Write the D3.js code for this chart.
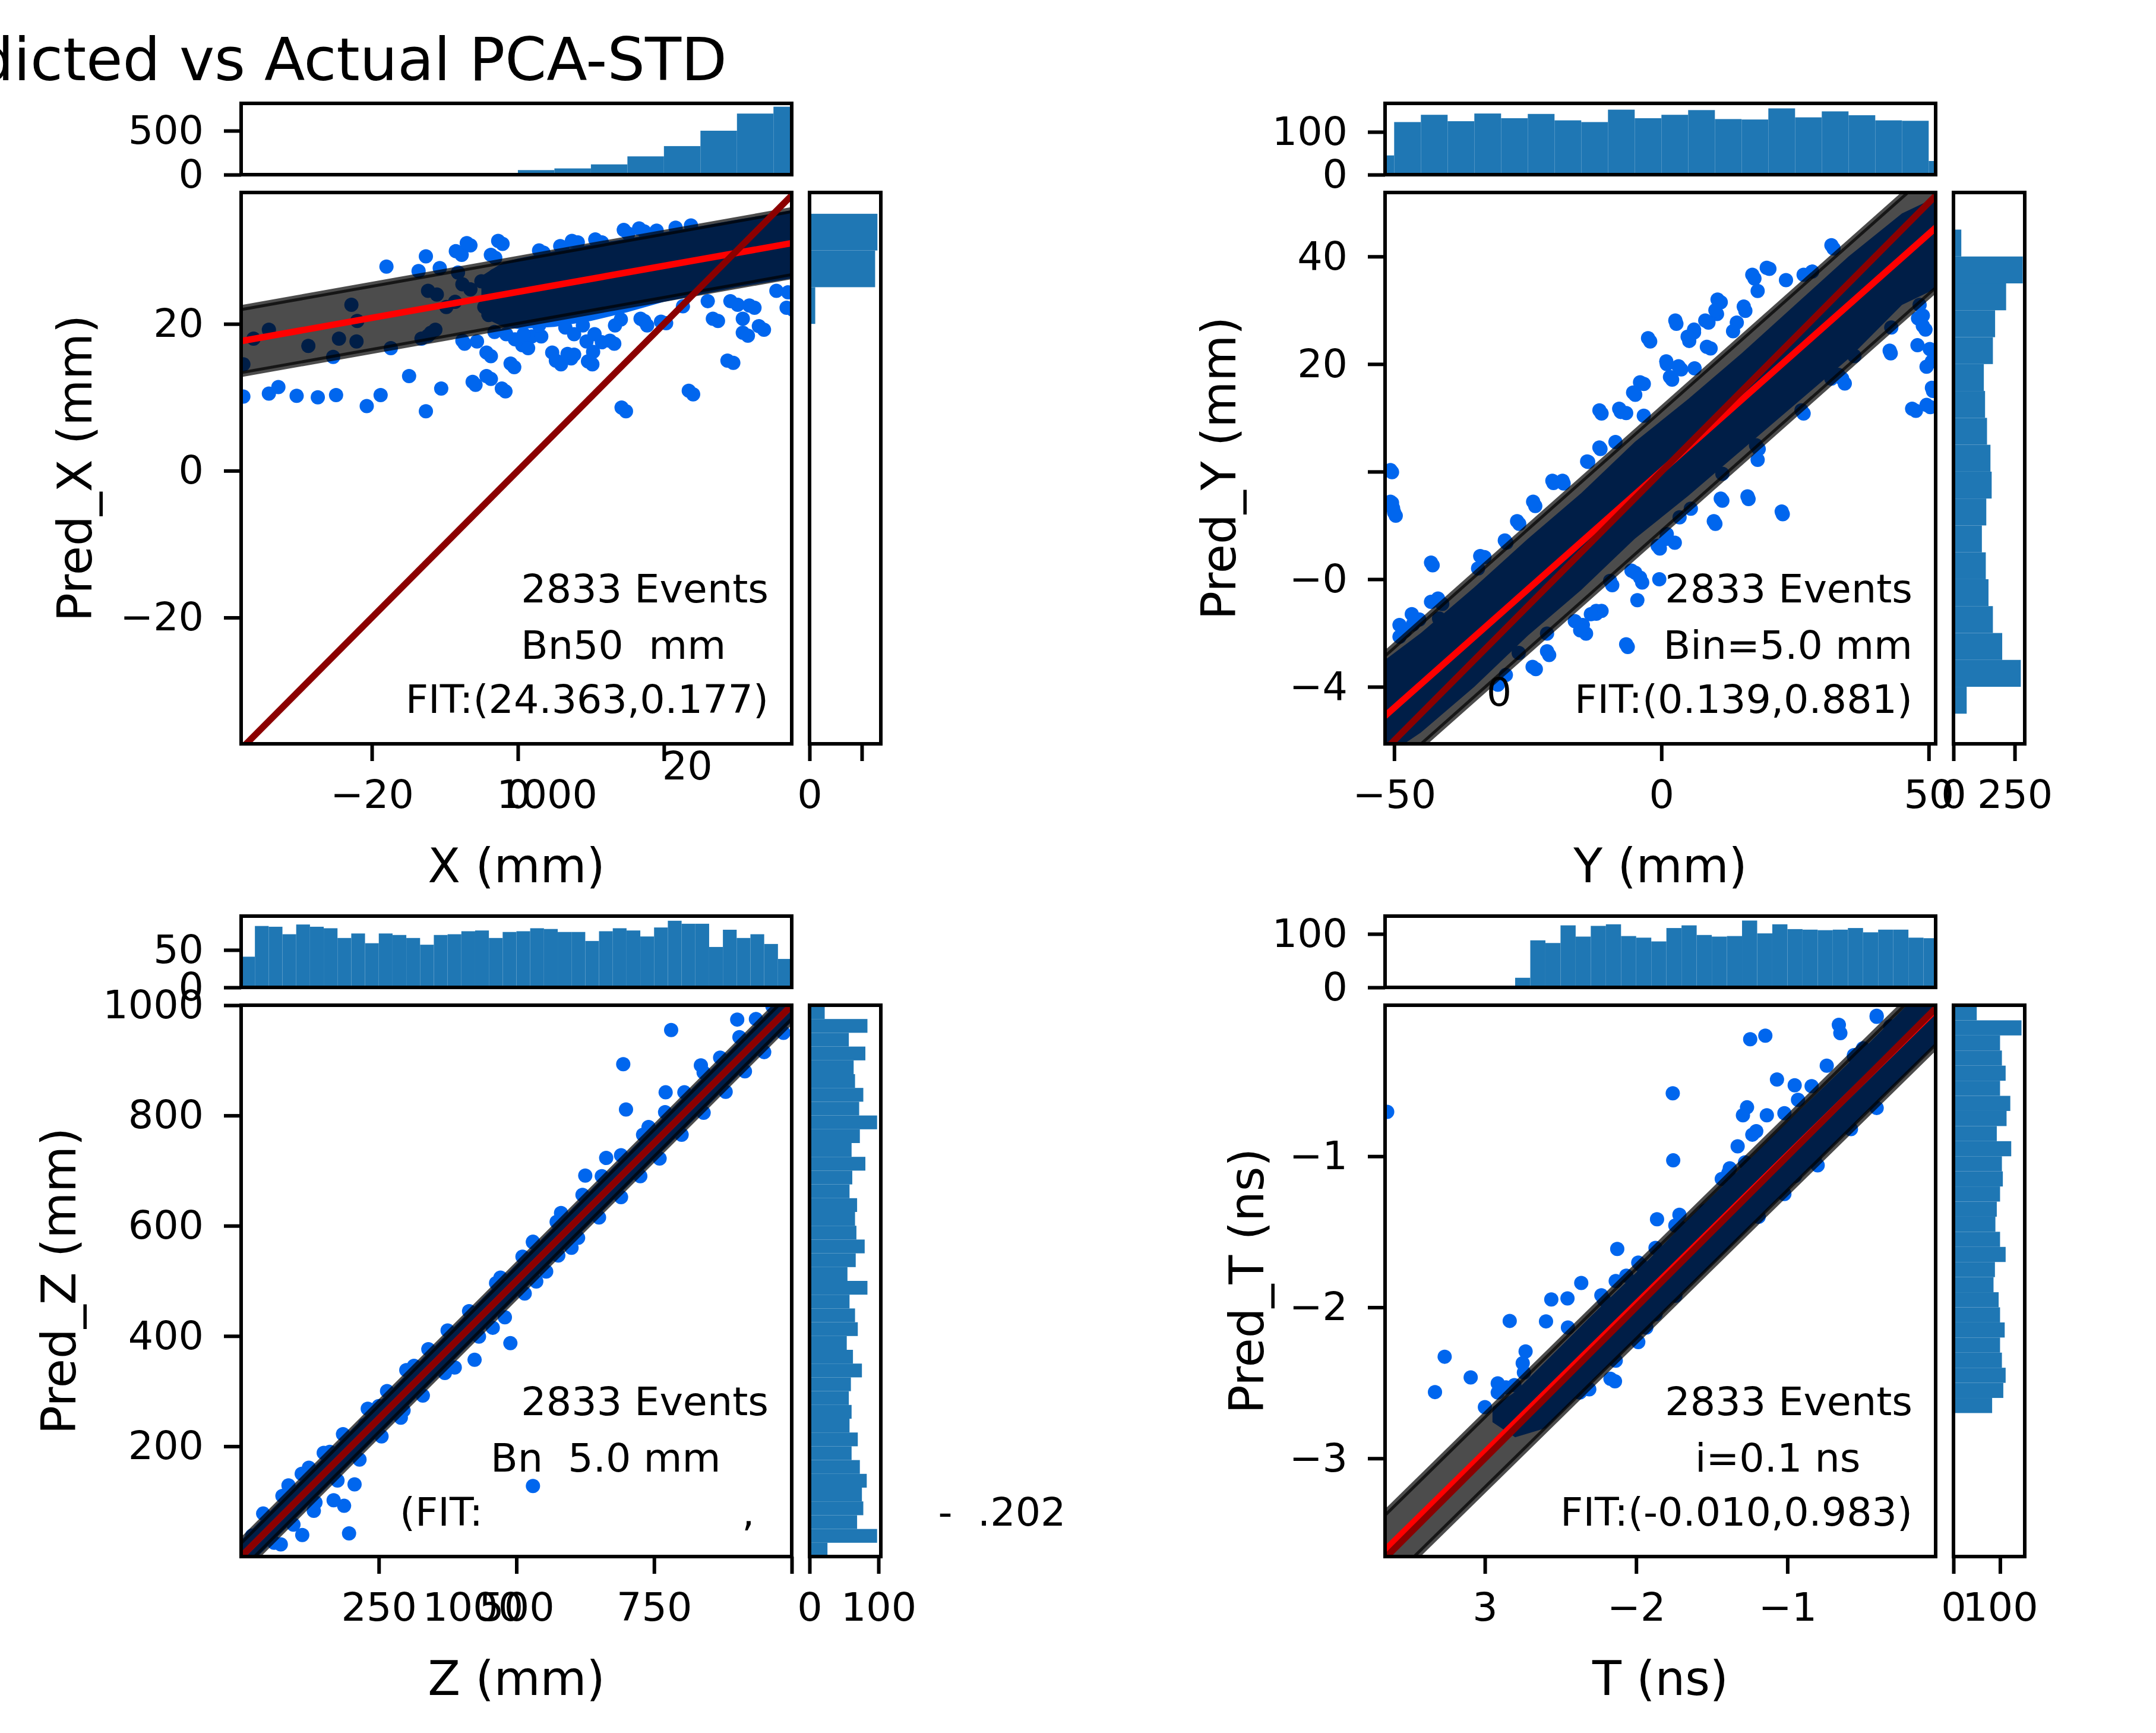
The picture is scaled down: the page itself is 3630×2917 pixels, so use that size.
<!DOCTYPE html>
<meta charset="utf-8">
<style>
    body { margin: 0; background: #fff; }
    text { font-family: "DejaVu Sans", sans-serif; white-space: pre; }
</style>
<body>
<script src="https://d3js.org/d3.v7.min.js"></script>
<script>
// ---------- data: X panel ----------
var domXx = [-37.9, 37.5], domXy = [-37.2, 37.9];
var fitX = [24.363, 0.177], bandX = 4.5;
var topStartX = -10, topStepX = 5, topMaxX = 811;
var topCountsX = [3, 4, 52, 71, 117, 208, 325, 500, 695, 773];
var sideStartX = 15, sideStepX = 5, sideMaxX = 1364;
var sideCountsX = [27, 109, 1255, 1299];
var envXx = [-5, -2, 0, 5, 10, 15, 20, 25, 30, 35, 37.5];
var envXlo = [21.0, 19.6, 19.3, 19.6, 20.4, 21.6, 23.0, 24.0, 25.0, 25.8, 26.2];
var envXhi = [26.5, 28.4, 28.9, 29.9, 30.8, 31.6, 32.5, 33.3, 34.2, 35.0, 35.5];
var pointsX = [[-37.6,10.1],[-34.1,10.5],[-32.8,11.4],[-30.3,10.2],[-27.4,10.0],[-24.9,10.3],[-20.7,8.8],
  [-18.8,10.3],[-12.6,8.1],[-14.9,12.9],[-10.5,11.2],[-5.8,11.7],[-3.7,12.5],[-1.7,10.8],[-0.5,14.1],
  [-3.7,15.6],[14.8,8.1],[24.0,10.4],[29.5,14.7],[27.4,20.4],[31.5,18.4],[33.7,19.2],[32.4,22.2],
  [30.1,22.6],[20.3,20.1],[17.3,20.4],[-18.0,27.8],[-13.6,27.2],[-12.6,29.2],[-10.7,27.6],[-7.7,29.4],
  [-6.5,30.7],[-3.1,29.0],[-2.1,30.9],[3.5,29.7],[6.1,30.1],[8.2,31.1],[11.5,31.1],[15.1,32.3],
  [17.3,32.6],[0.6,17.1],[7.3,15.3],[10.2,14.5],[5.9,14.5],[9.4,17.6],[11.5,17.5],[13.2,17.3],
  [1.9,18.3],[-5.6,17.6],[-7.3,17.3],[-11.3,19.2],[-12.3,18.4],[37.0,24.3],[37.7,21.9],
  [-37.6,14.5],[-36.2,18.0],[-34.1,19.2],[-28.7,17.0],[-25.3,15.5],[-24.5,18.0],[-22.8,22.6],
  [-22.0,20.4],[-22.1,17.6],[-17.4,16.7],[-13.2,18.0],[-12.3,24.5],[-11.9,18.8],[-11.1,24.0],
  [-9.8,22.3],[-8.6,23.0],[-8.2,27.0],[-7.6,25.4],[-6.5,24.7],[-5.0,25.8],[-4.6,22.3],[-4.0,21.2],
  [-3.1,26.6],[-2.3,21.9],[-1.1,21.2],[2.7,23.3],
  [-7.6,17.7],[-4.3,16.1],[-6.2,12.1],[-4.3,12.9],[-2.2,11.2],[-1.0,14.6],[-3.2,18.9],[-0.4,17.9],
  [1.4,16.7],[3.2,18.3],[4.7,16.1],[5.2,15.0],[6.8,15.9],[7.7,15.8],[6.5,19.5],[7.7,18.6],[9.6,14.9],
  [10.3,16.2],[12.6,17.7],[14.1,20.6],[13.3,19.8],[16.8,20.7],[17.7,19.8],[19.6,20.3],[22.6,22.4],
  [26.0,23.1],[26.7,20.7],[29.1,23.1],[30.8,20.7],[30.8,18.8],[31.7,22.5],[33.0,19.7],[28.7,15.0],
  [23.4,10.9],[14.2,8.6],[35.4,24.5],[36.8,22.2],[8.9,19.8],[10.5,18.6],[2.9,19.8],[0.8,18.6],
  [-1.6,18.6],[-7.0,31.0],[-2.7,31.3],[-3.7,29.4],[-8.5,29.9],[2.9,30.0],[5.8,30.6],[7.4,31.3],
  [10.6,31.5],[14.5,32.8],[16.6,33.0],[19.0,32.7],[21.6,33.1],[23.7,33.4]];
var xTicksX = [-20, 0, 20], xLabelsX = ["\u221220", "0", ""];
var yTicksX = [-20, 0, 20], yLabelsX = ["\u221220", "0", "20"];
var topTicksX = [0, 500], topLabelsX = ["0", "500"];
var sideTicksX = [0, 1000], sideLabelsX = ["0", ""];
var notesX = [["2833 Events", 0.958, 0.7435, "end"], ["Bn50  mm", 0.508, 0.846, "start"],
  ["FIT:(24.363,0.177)", 0.958, 0.944, "end"]];
var straysX = [["1000", 4.0, 0], ["20", 23.2, -48]];

// ---------- data: Y panel ----------
var domYx = [-51.7, 51.3], domYy = [-50.6, 51.9];
var fitY = [0.139, 0.881], bandY = 11.5;
var topStartY = -55, topStepY = 5, topMaxY = 166.7;
var topCountsY = [45, 123, 140, 125, 143, 132, 142, 127, 123, 152, 132, 140, 151, 130, 129, 155, 134, 148, 139, 127, 126, 32];
var sideStartY = -45, sideStepY = 5, sideMaxY = 291;
var sideCountsY = [54, 275, 199, 161, 143, 132, 116, 134, 156, 151, 137, 129, 124, 161, 170, 215, 283, 32];
var envYx = [-51.7, -45, -35, -25, -15, -5, 5, 15, 25, 35, 45, 51.3];
var envYlo = [-53, -48.5, -40, -30.5, -22, -12.5, -4.5, 4, 12.5, 21, 31, 34];
var envYhi = [-35, -30, -21.5, -12.5, -4, 5.5, 13.5, 22, 31, 40, 48, 51];
var pointsY = [[-50.4,-0.1],[-50.4,-5.8],[-49.7,-8.2],[-50.2,-6.8],[-42.8,-17.4],[32.2,41.5],[20.2,37.7],
  [17.4,35.9],[11.1,31.5],[10.4,29.3],[15.7,29.9],[8.8,27.7],[2.8,27.5],[6.1,25.9],[5.2,24.3],
  [-2.1,24.2],[9.2,22.9],[1.0,20.0],[3.7,19.0],[2.0,17.1],[-3.3,16.3],[-4.9,14.3],[-7.6,11.1],
  [-6.6,10.9],[-11.2,10.8],[-11.4,4.2],[-13.7,1.8],[-20.2,-2.1],[-18.3,-2.2],[-23.6,-6.4],
  [-26.6,-9.7],[-29.0,-13.2],[-33.1,-15.9],[-34.3,-18.0],[48.0,28.5],[49.4,26.4],[49.6,19.5],
  [50.8,15.0],[47.6,11.3],[50.3,12.0],[42.9,22.0],[34.3,16.4],[33.1,18.0],[26.6,10.8],[22.7,-7.9],
  [18.2,4.2],[16.3,-5.1],[11.4,-5.4],[10.1,-9.7],[1.0,-11.6],[2.5,-13.2],[-0.3,-14.3],[-3.6,-20.6],
  [-4.9,-18.8],[-6.3,-32.6],[-9.2,-21.1],[-12.2,-26.4],[-11.2,-25.9],[-14.7,-28.5],[-14.1,-30.1],
  [-21.0,-34.1],[-23.5,-36.7],[-29.1,-37.8],[-30.6,-39.6],[-39.5,-41.0],[-41.6,-27.3],[-41.0,-24.6],
  [-48.0,-29.6],[-49.0,-30.7],[-45.3,-27.5],[-46.5,-28.4],
  [31.8,42.1],[17.0,36.6],[19.7,37.9],[18.0,33.6],[23.3,35.6],[26.6,36.6],[28.2,37.2],[10.5,32.0],
  [15.4,30.7],[10.1,30.0],[2.6,28.1],[8.2,28.1],[6.1,26.4],[4.9,25.1],[-2.5,24.8],[13.4,26.1],
  [14.1,27.7],[8.5,23.2],[0.9,20.5],[3.2,19.6],[1.6,17.6],[6.2,19.2],[-4.0,16.6],[-5.3,14.7],
  [-7.9,11.7],[-11.6,11.4],[-3.3,10.4],[-11.6,4.5],[-13.9,1.9],[-8.6,5.5],[-20.4,-1.7],[-18.5,-1.7],
  [-24.0,-5.6],[-27.0,-9.2],[-29.3,-12.8],[-33.9,-15.7],[-43.1,-16.9],[-41.8,-23.6],[-43.1,-24.2],
  [-46.7,-26.5],[-49.0,-28.5],[-50.7,0.3],[-50.7,-5.6],[-50.0,-7.6],[26.2,11.4],[33.8,17.3],
  [31.8,17.3],[36.1,21.5],[43.0,26.8],[42.7,22.5],[47.9,23.5],[48.9,29.0],[48.9,27.1],[50.2,22.8],
  [50.6,20.5],[50.6,15.6],[46.9,11.7],[49.6,12.4],[48.3,31.0],[17.7,4.9],[18.0,2.2],[16.1,-4.6],
  [22.5,-7.4],[9.8,-9.2],[11.1,-5.0],[11.4,-0.4],[5.5,-6.9],[3.4,-8.5],[0.9,-12.5],[-0.7,-13.8],
  [-5.6,-18.4],[-4.0,-19.7],[-4.5,-23.9],[-9.6,-20.3],[-6.6,-32.1],[-0.4,-20.0],[-12.2,-25.9],
  [-13.2,-26.5],[-16.2,-27.8],[-15.2,-29.5],[-21.4,-30.1],[-21.4,-33.4],[-24.1,-36.3],[-26.7,-33.7]];
var xTicksY = [-50, 0, 50], xLabelsY = ["\u221250", "0", "50"];
var yTicksY = [-40, -20, 0, 20, 40], yLabelsY = ["\u22124", "\u22120", "", "20", "40"];
var topTicksY = [0, 100], topLabelsY = ["0", "100"];
var sideTicksY = [0, 250], sideLabelsY = ["0", "250"];
var notesY = [["2833 Events", 0.958, 0.7435, "end"], ["Bin=5.0 mm", 0.958, 0.846, "end"],
  ["FIT:(0.139,0.881)", 0.958, 0.944, "end"], ["0", 0.207, 0.931, "middle"]];
var straysY = [];

// ---------- data: Z panel ----------
var domZx = [0, 1000], domZy = [0, 1000];
var fitZ = [-0.202, 1.0], bandZ = 28;
var topStartZ = 0, topStepZ = 25, topMaxZ = 95.2;
var topCountsZ = [41, 82, 81, 71, 84, 81, 79, 66, 72, 59, 72, 70, 66, 57, 70, 71, 75, 76, 66, 74,
  75, 79, 78, 74, 74, 62, 75, 79, 76, 68, 80, 89, 85, 85, 54, 77, 66, 71, 58, 38];
var sideStartZ = 0, sideStepZ = 25, sideMaxZ = 103.4;
var sideCountsZ = [26, 98, 69, 78, 76, 83, 73, 61, 70, 58, 61, 57, 60, 76, 63, 54, 70, 66, 58, 84,
  55, 67, 80, 68, 66, 69, 58, 62, 81, 61, 73, 98, 72, 78, 66, 64, 81, 57, 84, 22];
var envZx = [0, 60, 150, 250, 350, 450, 550, 650, 750, 850, 950, 1000];
var envZlo = [-30, 30, 120, 220, 320, 420, 520, 620, 720, 820, 920, 970];
var envZhi = [30, 90, 180, 280, 380, 480, 580, 680, 780, 880, 980, 1030];
var pointsZ = [[781,955],[694,893],[699,811],[901,974],[489,387],[424,357],[388,343],[196,42],[111,39],
  [187,92],[206,131],[168,102],[132,83],[72,22],[86,129],[530,128],[835,891],[740,779],[771,842],
  [663,723],[625,691],[581,623],[530,570],[428,438],[397,399],[314,346],[250,273],[225,239],
  [161,190],[123,161],[47,58],[20,38],[295,265],[600,560],
  [40,78],[75,110],[110,150],[150,188],[185,222],[230,268],[265,300],[300,338],[340,376],[375,410],
  [414,445],[463,496],[471,506],[511,544],[530,571],[573,607],[620,656],[655,690],[690,728],
  [730,765],[770,806],[805,842],[840,878],[870,905],[905,942],[935,975],[965,998],
  [60,25],[95,58],[135,98],[175,138],[215,176],[255,218],[290,252],[330,292],[370,333],[432,399],
  [457,415],[479,434],[515,477],[536,499],[554,517],[576,546],[612,578],[650,615],[690,652],
  [725,690],[760,722],[800,765],[840,805],[880,843],[915,880],[950,915],[985,950]];
var xTicksZ = [250, 500, 750, 1000], xLabelsZ = ["250", "500", "750", ""];
var yTicksZ = [200, 400, 600, 800, 1000], yLabelsZ = ["200", "400", "600", "800", "1000"];
var topTicksZ = [0, 50], topLabelsZ = ["0", "50"];
var sideTicksZ = [0, 100], sideLabelsZ = ["0", "100"];
var notesZ = [["2833 Events", 0.958, 0.7435, "end"], ["Bn  5.0 mm", 0.453, 0.846, "start"],
  ["(FIT:", 0.288, 0.944, "start"], [",", 0.921, 0.944, "middle"], ["-  .202", 1.266, 0.944, "start"]];
var straysZ = [["1000", 421, 0]];

// ---------- data: T panel ----------
var domTx = [-3.66, -0.02], domTy = [-3.65, 0];
var fitT = [-0.010, 0.983], bandT = 0.245;
var topStartT = -2.8, topStepT = 0.1, topMaxT = 133.3;
var topCountsT = [18, 88, 83, 116, 95, 115, 118, 96, 93, 86, 111, 116, 98, 95, 96, 125, 101, 118,
  109, 108, 107, 108, 111, 103, 108, 108, 93, 92];
var sideStartT = -2.7, sideStepT = 0.1, sideMaxT = 153;
var sideCountsT = [83, 107, 112, 104, 100, 110, 100, 97, 86, 89, 112, 100, 90, 93, 100, 106, 104,
  124, 93, 114, 122, 100, 112, 104, 100, 146, 50];
var envTx = [-2.95, -2.8, -2.6, -2.3, -2.0, -1.7, -1.4, -1.1, -0.8, -0.5, -0.2, 0.05];
var envTlo = [-2.76, -2.86, -2.80, -2.50, -2.21, -1.91, -1.62, -1.32, -1.03, -0.73, -0.44, -0.19];
var envThi = [-2.66, -2.56, -2.36, -2.06, -1.77, -1.46, -1.17, -0.87, -0.58, -0.29, 0.01, 0.26];
var pointsT = [[-3.646,-0.706],[-1.758,-0.583],[-1.755,-1.027],[-1.246,-0.225],[-1.146,-0.202],
  [-1.069,-0.492],[-0.952,-0.530],[-1.267,-0.676],[-1.294,-0.729],[-1.136,-0.729],[-1.232,-0.857],
  [-1.206,-0.834],[-1.329,-0.934],[-1.381,-1.080],[-1.434,-1.150],[-1.862,-1.417],[-1.714,-1.387],
  [-1.741,-1.458],[-2.125,-1.614],[-2.363,-1.839],[-2.561,-1.948],[-2.454,-1.941],[-2.836,-2.090],
  [-2.596,-2.093],[-2.731,-2.292],[-3.266,-2.327],[-3.094,-2.464],[-3.330,-2.561],[-3.0,-2.661],
  [-2.915,-2.503],[-2.915,-2.564],[-2.805,-2.515],[-2.742,-2.432],[-2.170,-2.473],[-2.310,-2.543],
  [-2.372,-2.564],[-1.986,-2.230],[-1.933,-2.134],[-2.135,-2.353],[-1.741,-1.923],[-1.872,-2.046],
  [-2.135,-1.826],[-2.065,-1.791],[-1.986,-1.704],[-1.872,-1.607],[-2.214,-1.949],[-2.451,-2.134],
  [-0.66,-0.13],[-0.65,-0.185],[-0.41,-0.07],[-0.74,-0.40],[-0.56,-0.33],[-0.82,-1.01],[-0.95,-1.13],
  [-0.41,-0.077],[-0.56,-0.339],[-0.50,-0.285],[-0.32,-0.14],[-0.22,-0.088],[-0.15,-0.052],
  [-0.93,-0.626],[-0.84,-0.536],[-1.02,-0.715],[-1.28,-1.04],[-1.39,-1.11],[-1.54,-1.36],
  [-1.71,-1.47],[-1.97,-1.72],[-2.23,-1.92],[-2.75,-2.37],[-2.86,-2.53],[-2.14,-2.49],[-1.93,-2.08],
  [-0.80,-1.06],[-0.58,-0.82],[-0.41,-0.68],[-1.02,-1.25],[-1.19,-1.40]];
var xTicksT = [-3, -2, -1], xLabelsT = ["3", "\u22122", "\u22121"];
var yTicksT = [-3, -2, -1], yLabelsT = ["\u22123", "\u22122", "\u22121"];
var topTicksT = [0, 100], topLabelsT = ["0", "100"];
var sideTicksT = [0, 100], sideLabelsT = ["0", "100"];
var notesT = [["2833 Events", 0.958, 0.7435, "end"], ["i=0.1 ns", 0.563, 0.846, "start"],
  ["FIT:(-0.010,0.983)", 0.958, 0.944, "end"]];
var straysT = [];

var titleText = "Predicted vs Actual PCA-STD";

// ---------- layout ----------
var W = 3630, H = 2917;
var colLeft = [406, 2332], rowTop = [324, 1692];
var mainW = 927, mainH = 928, sideW = 120, gap = 30;
var tickFont = 66.7, labelFont = 80;
var blue = "#0066ee", histBlue = "#1f77b4";

var panels = [
    { col: 0, row: 0, xDom: domXx, yDom: domXy, fit: fitX, band: bandX, pts: pointsX,
      env: [envXx, envXlo, envXhi], top: [topStartX, topStepX, topCountsX, topMaxX],
      side: [sideStartX, sideStepX, sideCountsX, sideMaxX],
      xt: [xTicksX, xLabelsX], yt: [yTicksX, yLabelsX], tt: [topTicksX, topLabelsX], st: [sideTicksX, sideLabelsX],
      notes: notesX, strays: straysX, xlabel: "X (mm)", ylabel: "Pred_X (mm)", ylabelOff: -252 },
    { col: 1, row: 0, xDom: domYx, yDom: domYy, fit: fitY, band: bandY, pts: pointsY,
      env: [envYx, envYlo, envYhi], top: [topStartY, topStepY, topCountsY, topMaxY],
      side: [sideStartY, sideStepY, sideCountsY, sideMaxY],
      xt: [xTicksY, xLabelsY], yt: [yTicksY, yLabelsY], tt: [topTicksY, topLabelsY], st: [sideTicksY, sideLabelsY],
      notes: notesY, strays: straysY, xlabel: "Y (mm)", ylabel: "Pred_Y (mm)", ylabelOff: -252 },
    { col: 0, row: 1, xDom: domZx, yDom: domZy, fit: fitZ, band: bandZ, pts: pointsZ,
      env: [envZx, envZlo, envZhi], top: [topStartZ, topStepZ, topCountsZ, topMaxZ],
      side: [sideStartZ, sideStepZ, sideCountsZ, sideMaxZ],
      xt: [xTicksZ, xLabelsZ], yt: [yTicksZ, yLabelsZ], tt: [topTicksZ, topLabelsZ], st: [sideTicksZ, sideLabelsZ],
      notes: notesZ, strays: straysZ, xlabel: "Z (mm)", ylabel: "Pred_Z (mm)", ylabelOff: -279 },
    { col: 1, row: 1, xDom: domTx, yDom: domTy, fit: fitT, band: bandT, pts: pointsT,
      env: [envTx, envTlo, envThi], top: [topStartT, topStepT, topCountsT, topMaxT],
      side: [sideStartT, sideStepT, sideCountsT, sideMaxT],
      xt: [xTicksT, xLabelsT], yt: [yTicksT, yLabelsT], tt: [topTicksT, topLabelsT], st: [sideTicksT, sideLabelsT],
      notes: notesT, strays: straysT, xlabel: "T (ns)", ylabel: "Pred_T (ns)", ylabelOff: -205 }
];

var svg = d3.select("body").append("svg")
    .attr("width", W)
    .attr("height", H);
svg.append("rect").attr("width", W).attr("height", H).attr("fill", "#fff");
var defs = svg.append("defs");

// clean up a d3 axis so it looks like matplotlib ticks
function styleAxis(g) {
    g.attr("font-size", tickFont).attr("font-family", "DejaVu Sans, sans-serif");
    g.select(".domain").remove();
    g.selectAll(".tick line").attr("stroke", "#000").attr("stroke-width", 6);
    g.selectAll(".tick text").attr("fill", "#000");
}

function clipRect(id, x, y, w, h) {
    defs.append("clipPath").attr("id", id)
        .append("rect").attr("x", x).attr("y", y).attr("width", w).attr("height", h);
    return "url(#" + id + ")";
}

function spine(x, y, w, h) {
    svg.append("rect").attr("x", x).attr("y", y).attr("width", w).attr("height", h)
        .attr("fill", "none").attr("stroke", "#000").attr("stroke-width", 6);
}

function drawPanel(p, i) {
    var x0 = colLeft[p.col], y0 = rowTop[p.row];
    var x = d3.scaleLinear().domain(p.xDom).range([x0, x0 + mainW]);
    var y = d3.scaleLinear().domain(p.yDom).range([y0 + mainH, y0]);

    // ---- top histogram ----
    var topY0 = y0 - gap - sideW;
    var yt = d3.scaleLinear().domain([0, p.top[3]]).range([y0 - gap, topY0]);
    var gt = svg.append("g").attr("clip-path", clipRect("ct" + i, x0, topY0, mainW, sideW));
    gt.selectAll("rect").data(p.top[2]).enter().append("rect")
        .attr("x", (d, k) => x(p.top[0] + k * p.top[1]))
        .attr("width", (d, k) => x(p.top[0] + (k + 1) * p.top[1]) - x(p.top[0] + k * p.top[1]))
        .attr("y", d => yt(d))
        .attr("height", d => yt(0) - yt(d))
        .attr("fill", histBlue);
    spine(x0, topY0, mainW, sideW);
    svg.append("g").attr("transform", "translate(" + x0 + ",0)")
        .call(d3.axisLeft(yt).tickValues(p.tt[0]).tickFormat((d, k) => p.tt[1][k]).tickSize(29).tickPadding(34))
        .call(styleAxis);

    // ---- side histogram ----
    var sideX0 = x0 + mainW + gap;
    var xs = d3.scaleLinear().domain([0, p.side[3]]).range([sideX0, sideX0 + sideW]);
    var gs = svg.append("g").attr("clip-path", clipRect("cs" + i, sideX0, y0, sideW, mainH));
    gs.selectAll("rect").data(p.side[2]).enter().append("rect")
        .attr("x", sideX0)
        .attr("width", d => xs(d) - sideX0)
        .attr("y", (d, k) => y(p.side[0] + (k + 1) * p.side[1]))
        .attr("height", (d, k) => y(p.side[0] + k * p.side[1]) - y(p.side[0] + (k + 1) * p.side[1]))
        .attr("fill", histBlue);
    spine(sideX0, y0, sideW, mainH);
    svg.append("g").attr("transform", "translate(0," + (y0 + mainH) + ")")
        .call(d3.axisBottom(xs).tickValues(p.st[0]).tickFormat((d, k) => p.st[1][k]).tickSize(29).tickPadding(32))
        .call(styleAxis);

    // ---- main scatter ----
    var g = svg.append("g").attr("clip-path", clipRect("cm" + i, x0, y0, mainW, mainH));
    var env = p.env[0].map((v, k) => ({ x: v, lo: p.env[1][k], hi: p.env[2][k] }));
    g.append("path").datum(env)
        .attr("d", d3.area().x(d => x(d.x)).y0(d => y(d.lo)).y1(d => y(d.hi)))
        .attr("fill", blue);
    g.selectAll("circle").data(p.pts).enter().append("circle")
        .attr("cx", d => x(d[0]))
        .attr("cy", d => y(d[1]))
        .attr("r", 12)
        .attr("fill", blue);

    // band and fit, pushed past the edges so the ends get clipped
    var span = p.xDom[1] - p.xDom[0];
    var fitPts = [p.xDom[0] - span * 0.1, p.xDom[1] + span * 0.1]
        .map(v => ({ x: v, f: p.fit[0] + p.fit[1] * v }));
    g.append("path").datum(fitPts)
        .attr("d", d3.area().x(d => x(d.x)).y0(d => y(d.f - p.band)).y1(d => y(d.f + p.band)))
        .attr("fill", "#000").attr("fill-opacity", 0.7)
        .attr("stroke", "#000").attr("stroke-opacity", 0.7).attr("stroke-width", 10);
    g.append("path").datum(fitPts)
        .attr("d", d3.line().x(d => x(d.x)).y(d => y(d.f)))
        .attr("fill", "none").attr("stroke", "#ff0000").attr("stroke-width", 11);
    var lo = Math.min(p.xDom[0], p.yDom[0]) - span * 0.1, hi = Math.max(p.xDom[1], p.yDom[1]) + span * 0.1;
    g.append("path").datum([lo, hi])
        .attr("d", d3.line().x(d => x(d)).y(d => y(d)))
        .attr("fill", "none").attr("stroke", "#8b0000").attr("stroke-width", 11);

    spine(x0, y0, mainW, mainH);
    svg.append("g").attr("transform", "translate(0," + (y0 + mainH) + ")")
        .call(d3.axisBottom(x).tickValues(p.xt[0]).tickFormat((d, k) => p.xt[1][k]).tickSize(29).tickPadding(32))
        .call(styleAxis);
    svg.append("g").attr("transform", "translate(" + x0 + ",0)")
        .call(d3.axisLeft(y).tickValues(p.yt[0]).tickFormat((d, k) => p.yt[1][k]).tickSize(29).tickPadding(34))
        .call(styleAxis);

    // stray tick labels that ended up in odd places
    p.strays.forEach(function (s) {
        svg.append("text")
            .attr("x", x(s[1]))
            .attr("y", y0 + mainH + 108 + s[2])
            .attr("text-anchor", "middle")
            .attr("font-size", tickFont)
            .text(s[0]);
    });

    // annotation text in axes fractions
    var fx = d3.scaleLinear().domain([0, 1]).range([x0, x0 + mainW]);
    var fy = d3.scaleLinear().domain([0, 1]).range([y0, y0 + mainH]);
    p.notes.forEach(function (n) {
        svg.append("text")
            .attr("x", fx(n[1]))
            .attr("y", fy(n[2]))
            .attr("text-anchor", n[3])
            .attr("font-size", tickFont)
            .text(n[0]);
    });

    // axis labels
    svg.append("text")
        .attr("x", x0 + mainW / 2)
        .attr("y", y0 + mainH + 233)
        .attr("text-anchor", "middle")
        .attr("font-size", labelFont)
        .text(p.xlabel);
    svg.append("text")
        .attr("transform", "translate(" + (x0 + p.ylabelOff) + "," + (y0 + mainH / 2) + ") rotate(-90)")
        .attr("text-anchor", "middle")
        .attr("font-size", labelFont)
        .text(p.ylabel);
}

panels.forEach(drawPanel);

// figure title, runs off the left edge like the original
svg.append("text")
    .attr("x", 1224)
    .attr("y", 135)
    .attr("text-anchor", "end")
    .attr("font-size", 100)
    .text(titleText);
</script>
</body>
